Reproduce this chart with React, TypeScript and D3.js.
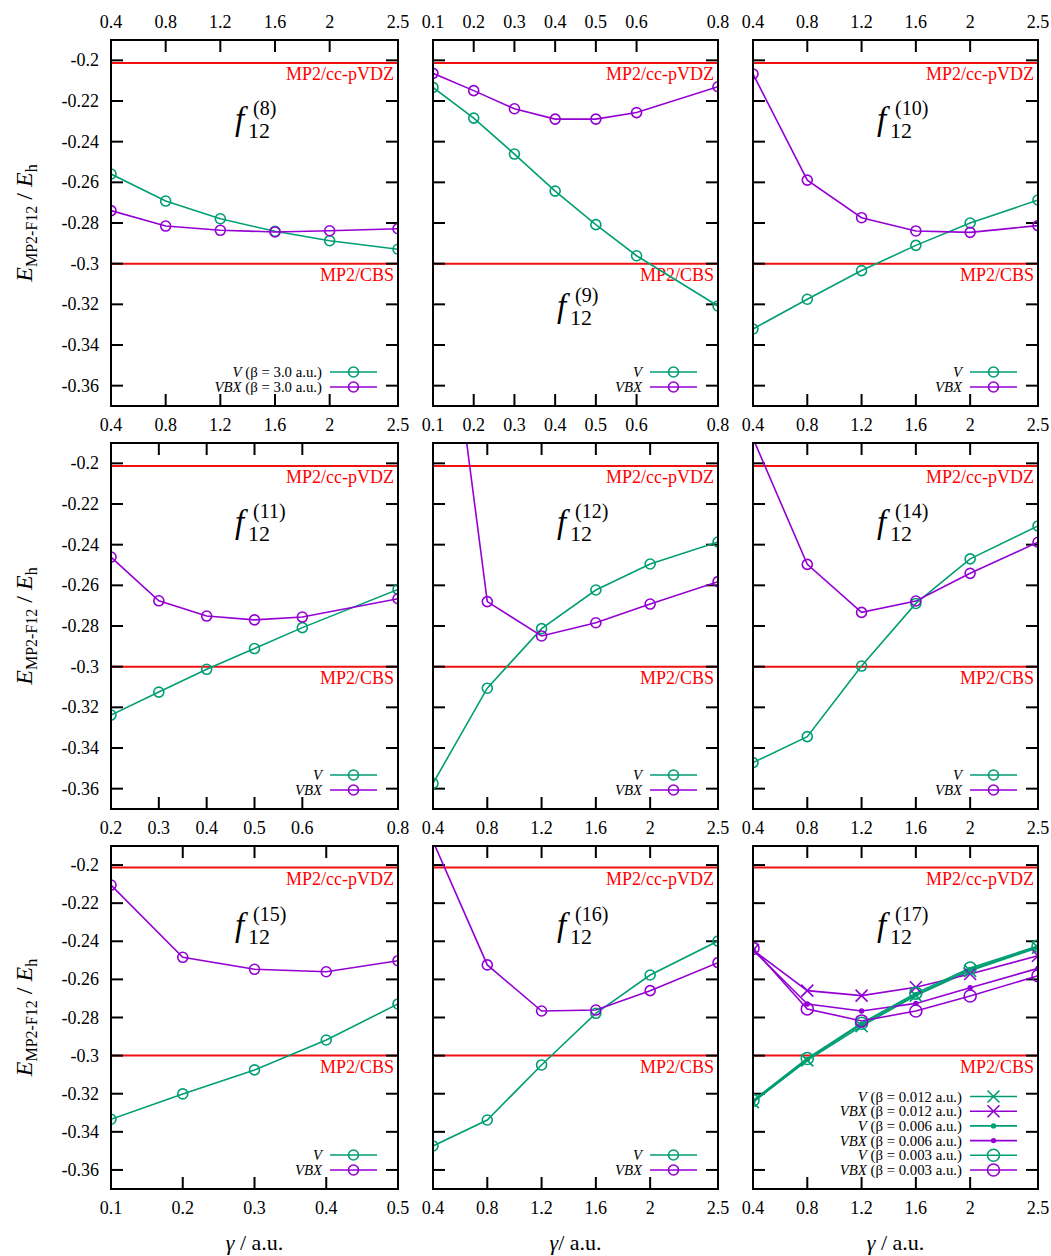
import React from 'react';
import * as d3 from 'd3';

// ---------- data ----------
const gammaWide = [0.4, 0.8, 1.2, 1.6, 2.0, 2.5];
const gammaF9 = [0.1, 0.2, 0.3, 0.4, 0.5, 0.6, 0.8];
const gammaF11 = [0.2, 0.3, 0.4, 0.5, 0.6, 0.8];
const gammaF15 = [0.1, 0.2, 0.3, 0.4, 0.5];

const ticksWide = [0.4, 0.8, 1.2, 1.6, 2, 2.5];
const ticksF9 = [0.1, 0.2, 0.3, 0.4, 0.5, 0.6, 0.8];
const ticksF11 = [0.2, 0.3, 0.4, 0.5, 0.6, 0.8];
const ticksF15 = [0.1, 0.2, 0.3, 0.4, 0.5];
const energyTicks = [-0.2, -0.22, -0.24, -0.26, -0.28, -0.3, -0.32, -0.34, -0.36];

const refVDZ = -0.2013;
const refCBS = -0.3;

const f8V = [-0.2559, -0.2692, -0.2779, -0.2841, -0.2887, -0.2929];
const f8VBX = [-0.2739, -0.2815, -0.2836, -0.2844, -0.2838, -0.2828];
const f9V = [-0.2133, -0.2284, -0.2461, -0.2643, -0.2808, -0.2961, -0.3208];
const f9VBX = [-0.2064, -0.2149, -0.2238, -0.2289, -0.2289, -0.2257, -0.213];
const f10V = [-0.3321, -0.3175, -0.3034, -0.291, -0.28, -0.2687];
const f10VBX = [-0.2067, -0.2589, -0.2774, -0.2839, -0.2846, -0.2813];
const f11V = [-0.3238, -0.3125, -0.3013, -0.2911, -0.2808, -0.262];
const f11VBX = [-0.2461, -0.2676, -0.2751, -0.277, -0.2756, -0.2666];
const f12V = [-0.3574, -0.3106, -0.2813, -0.2623, -0.2495, -0.2387];
const f12VBX = [-0.062, -0.268, -0.2849, -0.2784, -0.2692, -0.2582];
const f14V = [-0.3472, -0.3344, -0.2997, -0.2689, -0.247, -0.2308];
const f14VBX = [-0.1877, -0.2497, -0.2733, -0.2677, -0.2541, -0.2388];
const f15V = [-0.3334, -0.3201, -0.3075, -0.2918, -0.2729];
const f15VBX = [-0.2105, -0.2484, -0.2547, -0.256, -0.2502];
const f16V = [-0.3474, -0.3338, -0.3049, -0.2778, -0.2577, -0.2399];
const f16VBX = [-0.1875, -0.2524, -0.2766, -0.2761, -0.2659, -0.2512];
const f17V012 = [-0.3245, -0.3025, -0.2845, -0.2685, -0.2555, -0.2433];
const f17VBX012 = [-0.2446, -0.2659, -0.2685, -0.2641, -0.2572, -0.2476];
const f17V006 = [-0.324, -0.302, -0.2835, -0.268, -0.2548, -0.243];
const f17VBX006 = [-0.2445, -0.2729, -0.2766, -0.2726, -0.2644, -0.2542];
const f17V003 = [-0.3235, -0.3015, -0.283, -0.2672, -0.254, -0.2425];
const f17VBX003 = [-0.2437, -0.2755, -0.2818, -0.2766, -0.2687, -0.2581];

// ---------- style ----------
const GREEN = '#009e73';
const PURPLE = '#9400d3';
const RED = '#f01010';
const FONT = "'Liberation Serif'";

const rows = [
  { top: 40, bottom: 406 },
  { top: 443, bottom: 809 },
  { top: 846, bottom: 1189 },
];
const cols = [
  { left: 111, right: 398 },
  { left: 433, right: 718 },
  { left: 753, right: 1038 },
];

type Marker = 'circle' | 'cross' | 'dot';
type Series = { label: string; beta?: string; color: string; marker: Marker; xs: number[]; ys: number[]; r?: number };
type PanelCfg = {
  row: number; col: number; domain: [number, number]; ticks: number[];
  title: string; titleDy?: number; series: Series[]; topLabels?: boolean;
};

const std = (xs: number[], v: number[], vbx: number[], beta?: string): Series[] => [
  { label: 'V', beta, color: GREEN, marker: 'circle', xs, ys: v },
  { label: 'VBX', beta, color: PURPLE, marker: 'circle', xs, ys: vbx },
];

const panels: PanelCfg[] = [
  { row: 0, col: 0, domain: [0.4, 2.5], ticks: ticksWide, title: '8', series: std(gammaWide, f8V, f8VBX, '3.0'), topLabels: true },
  { row: 0, col: 1, domain: [0.1, 0.8], ticks: ticksF9, title: '9', titleDy: 285, series: std(gammaF9, f9V, f9VBX), topLabels: true },
  { row: 0, col: 2, domain: [0.4, 2.5], ticks: ticksWide, title: '10', series: std(gammaWide, f10V, f10VBX), topLabels: true },
  { row: 1, col: 0, domain: [0.2, 0.8], ticks: ticksF11, title: '11', series: std(gammaF11, f11V, f11VBX) },
  { row: 1, col: 1, domain: [0.4, 2.5], ticks: ticksWide, title: '12', series: std(gammaWide, f12V, f12VBX) },
  { row: 1, col: 2, domain: [0.4, 2.5], ticks: ticksWide, title: '14', series: std(gammaWide, f14V, f14VBX) },
  { row: 2, col: 0, domain: [0.1, 0.5], ticks: ticksF15, title: '15', series: std(gammaF15, f15V, f15VBX) },
  { row: 2, col: 1, domain: [0.4, 2.5], ticks: ticksWide, title: '16', series: std(gammaWide, f16V, f16VBX) },
  {
    row: 2, col: 2, domain: [0.4, 2.5], ticks: ticksWide, title: '17',
    series: [
      { label: 'V', beta: '0.012', color: GREEN, marker: 'cross', xs: gammaWide, ys: f17V012 },
      { label: 'VBX', beta: '0.012', color: PURPLE, marker: 'cross', xs: gammaWide, ys: f17VBX012 },
      { label: 'V', beta: '0.006', color: GREEN, marker: 'dot', xs: gammaWide, ys: f17V006 },
      { label: 'VBX', beta: '0.006', color: PURPLE, marker: 'dot', xs: gammaWide, ys: f17VBX006 },
      { label: 'V', beta: '0.003', color: GREEN, marker: 'circle', xs: gammaWide, ys: f17V003, r: 6 },
      { label: 'VBX', beta: '0.003', color: PURPLE, marker: 'circle', xs: gammaWide, ys: f17VBX003, r: 6 },
    ],
  },
];

function MarkerShape({ kind, x, y, color, r }: { kind: Marker; x: number; y: number; color: string; r?: number }) {
  if (kind === 'circle') return <circle cx={x} cy={y} r={r ?? 5} fill="none" stroke={color} strokeWidth={1.6} />;
  if (kind === 'dot') return <circle cx={x} cy={y} r={2.7} fill={color} />;
  const s = 6;
  return (
    <path d={`M${x - s},${y - s}L${x + s},${y + s}M${x - s},${y + s}L${x + s},${y - s}`} stroke={color} strokeWidth={1.6} fill="none" />
  );
}

function Panel({ cfg, idx }: { cfg: PanelCfg; idx: number }) {
  const { top, bottom } = rows[cfg.row];
  const { left, right } = cols[cfg.col];
  const x = d3.scaleLinear().domain(cfg.domain).range([left, right]);
  const y = d3.scaleLinear().domain([-0.37, -0.19]).range([bottom, top]);
  const line = d3.line<[number, number]>().x(d => x(d[0])).y(d => y(d[1]));
  const clipId = `clip${idx}`;
  const tickLen = 12;
  const n = cfg.series.length;
  const b = top + (cfg.titleDy ?? 98);
  const tx = left + 122;

  return (
    <g>
      <defs>
        <clipPath id={clipId}>
          <rect x={left} y={top} width={right - left} height={bottom - top} />
        </clipPath>
      </defs>
      {[refVDZ, refCBS].map((v, i) => (
        <line key={i} x1={left} x2={right} y1={y(v)} y2={y(v)} stroke={RED} strokeWidth={2} />
      ))}
      <text x={right - 4} y={y(refVDZ) + 17} textAnchor="end" fill="#ff0000" fontSize={18} style={{ fontFamily: FONT }}>MP2/cc-pVDZ</text>
      <text x={right - 4} y={y(refCBS) + 17} textAnchor="end" fill="#ff0000" fontSize={18} style={{ fontFamily: FONT }}>MP2/CBS</text>

      {cfg.ticks.map(t => (
        <g key={'x' + t}>
          <line x1={x(t)} x2={x(t)} y1={bottom} y2={bottom - tickLen} stroke="#000" strokeWidth={2} />
          <line x1={x(t)} x2={x(t)} y1={top} y2={top + tickLen} stroke="#000" strokeWidth={2} />
          <text x={x(t)} y={bottom + 25} textAnchor="middle" fontSize={18} style={{ fontFamily: FONT }}>{String(t)}</text>
          {cfg.topLabels && (
            <text x={x(t)} y={top - 12} textAnchor="middle" fontSize={18} style={{ fontFamily: FONT }}>{String(t)}</text>
          )}
        </g>
      ))}
      {energyTicks.map(t => (
        <g key={'y' + t}>
          <line x1={left} x2={left + tickLen} y1={y(t)} y2={y(t)} stroke="#000" strokeWidth={2} />
          <line x1={right} x2={right - tickLen} y1={y(t)} y2={y(t)} stroke="#000" strokeWidth={2} />
          {cfg.col === 0 && (
            <text x={left - 12} y={y(t) + 6} textAnchor="end" fontSize={18} style={{ fontFamily: FONT }}>{String(t)}</text>
          )}
        </g>
      ))}

      <g clipPath={`url(#${clipId})`}>
        {cfg.series.map((s, i) => (
          <path key={i} d={line(s.xs.map((v, k) => [v, s.ys[k]] as [number, number])) ?? ''} fill="none" stroke={s.color} strokeWidth={1.6} />
        ))}
        {cfg.series.map((s, i) => (
          <g key={'m' + i}>
            {s.xs.map((v, k) =>
              s.ys[k] <= -0.19 && s.ys[k] >= -0.37 ? (
                <MarkerShape key={k} kind={s.marker} x={x(v)} y={y(s.ys[k])} color={s.color} r={s.r} />
              ) : null
            )}
          </g>
        ))}
      </g>

      <rect x={left} y={top} width={right - left} height={bottom - top} fill="none" stroke="#000" strokeWidth={2} />

      <text x={tx + 2} y={b - 8} fontSize={33} fontStyle="italic" style={{ fontFamily: FONT }}>f</text>
      <text x={tx + 15} y={b} fontSize={22} style={{ fontFamily: FONT }}>12</text>
      <text x={tx + 20} y={b - 23} fontSize={20} style={{ fontFamily: FONT }}>({cfg.title})</text>

      {cfg.series.map((s, i) => {
        const ly = bottom - 19 - (n === 2 ? 15 : 14.7) * (n - 1 - i);
        return (
          <g key={'l' + i}>
            <text x={right - 76} y={ly + 5} textAnchor="end" fontSize={14.8} style={{ fontFamily: FONT }}>
              <tspan fontStyle="italic">{s.label}</tspan>
              {s.beta ? <tspan>{` (β = ${s.beta} a.u.)`}</tspan> : null}
            </text>
            <line x1={right - 68} x2={right - 21} y1={ly} y2={ly} stroke={s.color} strokeWidth={1.6} />
            <MarkerShape kind={s.marker} x={right - 44.5} y={ly} color={s.color} r={s.r} />
          </g>
        );
      })}
    </g>
  );
}

export default function App() {
  return (
    <svg width={1051} height={1256} style={{ position: 'absolute', left: 0, top: 0, background: '#fff' }}>
      <rect width={1051} height={1256} fill="#fff" />
      {panels.map((p, i) => <Panel key={i} cfg={p} idx={i} />)}
      {rows.map((r, i) => (
        <text key={'yl' + i} transform={`translate(32, ${(r.top + r.bottom) / 2}) rotate(-90)`} textAnchor="middle" style={{ fontFamily: FONT }} fontSize={24}>
          <tspan fontStyle="italic">E</tspan>
          <tspan fontSize={16} dy={5}>MP2-F12</tspan>
          <tspan dy={-5}>{' / '}</tspan>
          <tspan fontStyle="italic">E</tspan>
          <tspan fontSize={16} dy={5}>h</tspan>
        </text>
      ))}
      {cols.map((c, i) => (
        <text key={'xl' + i} x={(c.left + c.right) / 2} y={1250} textAnchor="middle" style={{ fontFamily: FONT }} fontSize={22}>
          <tspan fontStyle="italic">γ</tspan>
          <tspan>{i === 1 ? '/ a.u.' : ' / a.u.'}</tspan>
        </text>
      ))}
    </svg>
  );
}
